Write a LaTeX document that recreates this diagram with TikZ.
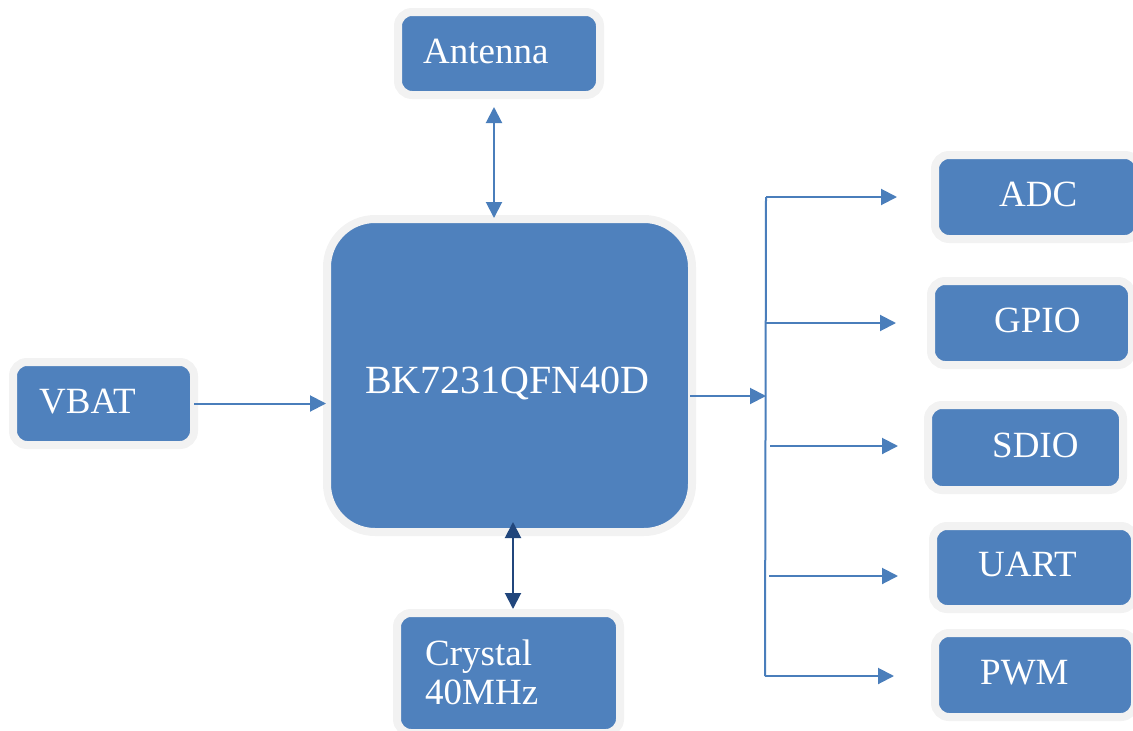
\documentclass[tikz,border=0pt]{standalone}
\usepackage{fontspec}
\setmainfont{Liberation Serif}
\usetikzlibrary{arrows.meta}
\definecolor{boxblue}{HTML}{4F81BD}
\definecolor{boxgray}{HTML}{F2F2F2}
\definecolor{arrblue}{HTML}{4A7EBB}
\definecolor{arrdark}{HTML}{21467C}
\tikzset{
  blk/.style={draw=boxgray, line width=8pt, fill=boxblue, rounded corners=14pt,
    inner sep=0pt, outer sep=0pt, anchor=center},
  lbl/.style={text=white, anchor=base west, inner sep=0pt, font=\fontsize{37}{39}\selectfont},
  conn/.style={draw=arrblue, line width=2pt},
  tipped/.style={-{Triangle[length=16pt,width=16pt]}},
  dbl/.style={{Triangle[length=16pt,width=16pt]}-{Triangle[length=16pt,width=16pt]}}
}
\begin{document}
\begin{tikzpicture}[x=1pt,y=-1pt]
\useasboundingbox (0,0) rectangle (1133,731);
% boxes
\node[blk, minimum width=202pt, minimum height=83pt] (ant) at (499,53.5) {};
\node[blk, minimum width=365pt, minimum height=313pt, rounded corners=48pt] (main) at (509.5,375.5) {};
\node[blk, minimum width=181pt, minimum height=83pt] (vbat) at (103.5,403.5) {};
\node[blk, minimum width=223pt, minimum height=120pt] (xtal) at (508.5,673) {};
\node[blk, minimum width=204pt, minimum height=84pt] (adc) at (1037,197) {};
\node[blk, minimum width=201pt, minimum height=84pt] (gpio) at (1031.5,323) {};
\node[blk, minimum width=195pt, minimum height=85pt] (sdio) at (1025.5,447.5) {};
\node[blk, minimum width=202pt, minimum height=83pt] (uart) at (1034,567.5) {};
\node[blk, minimum width=200pt, minimum height=84pt] (pwm) at (1035,675) {};
% labels
\node[lbl] (tant) at (423,63) {Antenna};
\node[lbl, font=\fontsize{40}{40}\selectfont] (tmain) at (365,393) {BK7231QFN40D};
\node[lbl] (tvbat) at (39,413) {VBAT};
\node[lbl, align=left] (txtal) at (425,704) {Crystal\\40MHz};
\node[lbl] (tadc) at (999,206) {ADC};
\node[lbl] (tgpio) at (994,332) {GPIO};
\node[lbl] (tsdio) at (992,457) {SDIO};
\node[lbl] (tuart) at (978,576) {UART};
\node[lbl] (tpwm) at (980,684) {PWM};
% helper coordinates
\coordinate (ax) at (494,0);
\coordinate (cx) at (513,0);
\coordinate (my) at (0,396);
\coordinate (bus) at (766,0);
\coordinate (busTop) at (766,197);
\coordinate (busBot) at (765,676);
\coordinate (eadc) at (897,197);
\coordinate (sgpio) at (766,323);
\coordinate (egpio) at (896,323);
\coordinate (ssdio) at (770,446);
\coordinate (esdio) at (898,446);
\coordinate (suart) at (769,576);
\coordinate (euart) at (898,576);
\coordinate (epwm) at (894,676);
% connectors
\draw[conn, dbl, shorten <=12pt, shorten >=1pt] (ant.south -| ax) -- (main.north -| ax);
\draw[conn, tipped, shorten >=1pt] (vbat.east) -- (vbat.east -| main.west);
\draw[draw=arrdark, line width=2pt, dbl, shorten <=-10pt, shorten >=4pt] (main.south -| cx) -- (xtal.north -| cx);
\draw[conn, tipped, shorten <=-2pt] (main.east |- my) -- (bus |- my);
\draw[conn] (busTop) -- (busBot);
\draw[conn, tipped] (busTop) -- (eadc);
\draw[conn, tipped] (sgpio) -- (egpio);
\draw[conn, tipped] (ssdio) -- (esdio);
\draw[conn, tipped] (suart) -- (euart);
\draw[conn, tipped] (busBot) -- (epwm);
\end{tikzpicture}
\end{document}
